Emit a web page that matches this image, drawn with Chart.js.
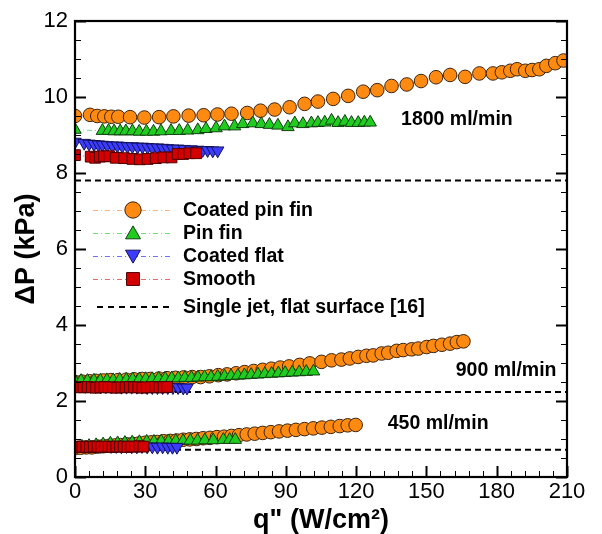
<!DOCTYPE html>
<html>
<head>
<meta charset="utf-8">
<script src="https://cdn.jsdelivr.net/npm/chart.js@4.4.1/dist/chart.umd.min.js"></script>
<style>
html,body{margin:0;padding:0;background:#fff;}
#wrap{width:602px;height:534px;}
</style>
</head>
<body>
<div id="wrap"><canvas id="c" width="602" height="534"></canvas></div>
<script>
// ---------- DATA ----------
const xTicks = [0, 30, 60, 90, 120, 150, 180, 210];
const yTicks = [0, 2, 4, 6, 8, 10, 12];

// 1800 ml/min
const q_cpf1800 = [0, 6.4, 9.5, 12.5, 15.5, 18.5, 23.5, 29.6, 35.9, 42, 48.5, 54.9, 60.8, 66.8, 73.5, 79.2, 85.2, 91.6, 98, 103.7, 110.2, 116.6, 123, 129, 135.1, 141.6, 147.7, 154.1, 160.1, 166.5, 172.6, 178.4, 182.2, 185.8, 188.7, 192.2, 195.1, 198.2, 201.2, 205, 208.5];
const p_cpf1800 = [9.5, 9.53, 9.5, 9.49, 9.48, 9.48, 9.47, 9.46, 9.47, 9.49, 9.51, 9.52, 9.54, 9.56, 9.58, 9.64, 9.67, 9.73, 9.82, 9.88, 9.95, 10.03, 10.14, 10.18, 10.29, 10.33, 10.42, 10.52, 10.58, 10.53, 10.62, 10.62, 10.65, 10.69, 10.73, 10.69, 10.71, 10.73, 10.82, 10.89, 10.96];
const q_pf1800 = [0, 11.7, 14.3, 16.7, 19.3, 21.7, 24.5, 27.4, 30.5, 33.5, 36.7, 41, 44.5, 48.1, 52.4, 55.9, 60.2, 63.8, 68.1, 71.6, 75.9, 79.5, 83, 86.6, 90.9, 93.8, 97.3, 100.9, 103.7, 106.6, 109.5, 112.3, 115.2, 118, 120.9, 123.5, 126];
const p_pf1800 = [9.14, 9.11, 9.11, 9.1, 9.1, 9.1, 9.1, 9.09, 9.09, 9.09, 9.1, 9.11, 9.11, 9.12, 9.13, 9.16, 9.18, 9.23, 9.23, 9.29, 9.31, 9.29, 9.27, 9.25, 9.21, 9.31, 9.29, 9.31, 9.32, 9.33, 9.38, 9.32, 9.35, 9.32, 9.32, 9.33, 9.33];
const q_cf1800 = [0, 3.9, 6, 8.1, 10, 11.7, 13.8, 16, 18.1, 20.2, 22.4, 24.5, 26.7, 28.8, 31, 33.1, 35.2, 37.4, 39.5, 41.7, 43.8, 46.7, 49.5, 52.4, 54.5, 56.6, 58.8, 60.9];
const p_cf1800 = [8.82, 8.79, 8.77, 8.76, 8.75, 8.74, 8.73, 8.72, 8.72, 8.71, 8.7, 8.7, 8.69, 8.69, 8.68, 8.67, 8.67, 8.66, 8.65, 8.64, 8.64, 8.63, 8.62, 8.61, 8.6, 8.6, 8.59, 8.59];
const q_sm1800 = [0, 6.7, 8.6, 10.6, 12.4, 14.6, 17.4, 21, 24.5, 27.7, 31, 34.5, 37.7, 41.2, 43.8, 46.2, 48.8, 51.7];
const p_sm1800 = [8.47, 8.43, 8.4, 8.43, 8.44, 8.44, 8.4, 8.39, 8.37, 8.36, 8.37, 8.39, 8.41, 8.41, 8.5, 8.5, 8.52, 8.52];

// 900 ml/min
const q_cpf900 = [0, 3.1, 6.2, 9.0, 12.1, 15.3, 18.4, 21.8, 25.2, 28.7, 32.1, 35.8, 39.3, 42.9, 46.4, 50.0, 53.6, 57.4, 61.2, 64.9, 68.8, 72.4, 76.3, 80.1, 83.8, 87.6, 91.4, 95.9, 100.2, 105.2, 109.5, 113.7, 117.3, 120.9, 124.4, 127.3, 130.9, 133.7, 137.3, 140.1, 143.7, 146.5, 150.1, 153, 156.6, 160.1, 163, 165.8];
const p_cpf900 = [2.5, 2.51, 2.52, 2.53, 2.54, 2.55, 2.55, 2.56, 2.57, 2.58, 2.58, 2.59, 2.6, 2.61, 2.62, 2.63, 2.63, 2.65, 2.68, 2.7, 2.73, 2.76, 2.79, 2.82, 2.85, 2.88, 2.91, 2.95, 2.99, 3.03, 3.07, 3.09, 3.12, 3.16, 3.19, 3.2, 3.25, 3.27, 3.32, 3.34, 3.36, 3.38, 3.42, 3.45, 3.48, 3.51, 3.55, 3.57];
const q_pf900 = [0, 2.6, 5.3, 8.1, 10.8, 13.6, 16.3, 19.1, 21.9, 24.6, 27.4, 30.2, 32.9, 35.7, 38.5, 41.3, 44.1, 46.9, 49.7, 52.5, 55.3, 58.1, 60.9, 63.8, 66.6, 69.5, 72.3, 75.2, 78.1, 81, 83.9, 86.8, 89.7, 92.7, 95.7, 98.7, 101.8];
const p_pf900 = [2.52, 2.53, 2.53, 2.54, 2.54, 2.55, 2.55, 2.56, 2.56, 2.57, 2.57, 2.58, 2.58, 2.59, 2.59, 2.6, 2.6, 2.61, 2.61, 2.62, 2.63, 2.63, 2.64, 2.65, 2.66, 2.67, 2.68, 2.69, 2.7, 2.71, 2.72, 2.73, 2.74, 2.75, 2.76, 2.77, 2.78];
const q_cf900 = [0, 2.2, 4.4, 6.6, 8.8, 11, 13.2, 15.4, 17.6, 19.8, 22, 24.2, 26.4, 28.6, 30.8, 33, 35.2, 37.4, 39.6, 41.8, 44, 46.2, 47.8];
const p_cf900 = [2.4, 2.4, 2.39, 2.39, 2.39, 2.38, 2.38, 2.38, 2.38, 2.37, 2.37, 2.37, 2.37, 2.37, 2.36, 2.36, 2.36, 2.36, 2.36, 2.36, 2.36, 2.35, 2.35];
const q_sm900 = [0, 1.8, 3.6, 5.4, 7.2, 9, 10.8, 12.6, 14.4, 16.2, 18, 19.8, 21.6, 23.4, 25.2, 27, 28.8, 30.6, 32.4, 34.2, 36, 37.8, 39.3];
const p_sm900 = [2.37, 2.36, 2.36, 2.37, 2.36, 2.35, 2.36, 2.37, 2.36, 2.36, 2.35, 2.36, 2.36, 2.37, 2.36, 2.36, 2.35, 2.36, 2.36, 2.37, 2.36, 2.36, 2.37];

// 450 ml/min
const q_cpf450 = [0, 2.4, 4.8, 7.2, 9.6, 12, 14.5, 17, 19.5, 22, 24.6, 27.2, 29.8, 32.5, 35.2, 37.9, 40.6, 43.4, 46.2, 49, 51.8, 54.7, 57.6, 60.6, 63.6, 66.8, 70, 73.3, 76.7, 80.1, 83.6, 87.1, 90.7, 94.3, 98, 101.7, 105.4, 109.2, 113, 116.4, 119.8];
const p_cpf450 = [0.76, 0.77, 0.78, 0.78, 0.8, 0.81, 0.82, 0.83, 0.84, 0.86, 0.87, 0.88, 0.9, 0.91, 0.92, 0.94, 0.95, 0.96, 0.98, 0.99, 1.0, 1.02, 1.03, 1.05, 1.06, 1.08, 1.1, 1.12, 1.14, 1.16, 1.18, 1.2, 1.22, 1.24, 1.26, 1.28, 1.3, 1.32, 1.34, 1.36, 1.37];
const q_pf450 = [0, 3, 6, 9, 12, 15.1, 18.2, 21.3, 24.4, 27.5, 30.6, 33.7, 36.8, 39.9, 43, 46.1, 49.2, 52.3, 55.4, 59, 63.3, 66, 68.4];
const p_pf450 = [0.78, 0.8, 0.82, 0.84, 0.86, 0.88, 0.89, 0.9, 0.91, 0.92, 0.93, 0.93, 0.94, 0.94, 0.95, 0.95, 0.96, 0.96, 0.97, 0.97, 0.98, 0.98, 0.98];
const q_cf450 = [0, 2.2, 4.4, 6.6, 8.8, 11, 13.2, 15.4, 17.6, 19.8, 22, 24.2, 26.4, 28.6, 30.8, 33, 35.2, 37.4, 39.6, 41.6, 43.5];
const p_cf450 = [0.82, 0.82, 0.81, 0.82, 0.81, 0.81, 0.82, 0.81, 0.81, 0.8, 0.81, 0.8, 0.8, 0.81, 0.8, 0.8, 0.79, 0.8, 0.79, 0.79, 0.79];
const q_sm450 = [0, 1.6, 3.2, 4.8, 6.4, 8, 9.6, 11.2, 12.8, 14.4, 16, 17.6, 19.2, 20.8, 22.4, 24, 25.6, 27.4, 29.2];
const p_sm450 = [0.8, 0.79, 0.8, 0.79, 0.79, 0.8, 0.8, 0.79, 0.8, 0.8, 0.79, 0.8, 0.8, 0.8, 0.79, 0.8, 0.8, 0.81, 0.8];

// Single jet, flat surface [16]
const jetLevels = [7.8, 2.24, 0.72];

const flowLabels = [
  {text: '1800 ml/min', q: 163, p: 9.4},
  {text: '900 ml/min',  q: 184, p: 2.8},
  {text: '450 ml/min',  q: 155, p: 1.41}
];

const seriesNames = ['Coated pin fin', 'Pin fin', 'Coated flat', 'Smooth'];
const jetName = 'Single jet, flat surface [16]';

// ---------- STYLES ----------
const FONT = "'Liberation Sans', Arial, Helvetica, sans-serif";
const styles = {
  'Coated pin fin': {fill: '#ff8a12', edge: '#3b2410', line: '#ffb27a', shape: 'circle', r: 6.8, order: 4},
  'Pin fin':        {fill: '#1fcc1f', edge: '#124012', line: '#6ee06e', shape: 'triangle', r: 7.2, order: 3},
  'Coated flat':    {fill: '#3c3cff', edge: '#12125a', line: '#7070ff', shape: 'triangle', rot: 180, r: 7.2, order: 2},
  'Smooth':         {fill: '#d40000', edge: '#500000', line: '#e66a6a', shape: 'rect', r: 7.6, order: 1}
};

function pts(qs, ps) { return qs.map((q, i) => ({x: q, y: ps[i]})); }

const groups = {
  'Coated pin fin': [[q_cpf1800, p_cpf1800], [q_cpf900, p_cpf900], [q_cpf450, p_cpf450]],
  'Pin fin':        [[q_pf1800, p_pf1800], [q_pf900, p_pf900], [q_pf450, p_pf450]],
  'Coated flat':    [[q_cf1800, p_cf1800], [q_cf900, p_cf900], [q_cf450, p_cf450]],
  'Smooth':         [[q_sm1800, p_sm1800], [q_sm900, p_sm900], [q_sm450, p_sm450]]
};

const datasets = [];
seriesNames.forEach(name => {
  const s = styles[name];
  groups[name].forEach(([qs, ps]) => {
    datasets.push({
      label: name,
      data: pts(qs, ps),
      showLine: true,
      borderColor: s.line,
      borderWidth: 1,
      borderDash: [5, 3, 1, 3],
      pointStyle: s.shape,
      pointRotation: s.rot || 0,
      pointRadius: s.r,
      pointBackgroundColor: s.fill,
      pointBorderColor: s.edge,
      pointBorderWidth: 1,
      order: s.order
    });
  });
});
jetLevels.forEach(v => {
  datasets.push({
    label: jetName,
    data: [{x: 0, y: v}, {x: 210, y: v}],
    showLine: true,
    borderColor: '#000',
    borderWidth: 2,
    borderDash: [6, 4],
    pointRadius: 0,
    order: 10
  });
});

// ---------- DECORATION PLUGIN ----------
function marker(ctx, shape, x, y, r, rot, fill, edge) {
  ctx.save();
  ctx.fillStyle = fill; ctx.strokeStyle = edge; ctx.lineWidth = 1;
  ctx.beginPath();
  if (shape === 'circle') {
    ctx.arc(x, y, r, 0, Math.PI * 2);
  } else if (shape === 'rect') {
    const h = r * Math.SQRT1_2;
    ctx.rect(x - h, y - h, 2 * h, 2 * h);
  } else {
    let a = (rot || 0) * Math.PI / 180;
    for (let k = 0; k < 3; k++) {
      const px = x + Math.sin(a) * r, py = y - Math.cos(a) * r;
      if (k === 0) ctx.moveTo(px, py); else ctx.lineTo(px, py);
      a += 2 * Math.PI / 3;
    }
    ctx.closePath();
  }
  ctx.fill(); ctx.stroke();
  ctx.restore();
}

const deco = {
  id: 'deco',
  afterDraw(chart) {
    const {ctx, chartArea: a, scales: {x, y}} = chart;
    ctx.save();
    // ticks (inside), left / right / bottom
    ctx.strokeStyle = '#000';
    for (let v = 0; v <= 210.001; v += 6) {
      const px = Math.round(x.getPixelForValue(v)) + 0.5;
      const major = xTicks.includes(Math.round(v));
      ctx.lineWidth = major ? 2 : 1;
      ctx.beginPath(); ctx.moveTo(px, a.bottom); ctx.lineTo(px, a.bottom - (major ? 11 : 6)); ctx.stroke();
    }
    for (let v = 0; v <= 12.001; v += 0.5) {
      const py = Math.round(y.getPixelForValue(v)) + 0.5;
      const major = yTicks.includes(v);
      ctx.lineWidth = major ? 2 : 1;
      const len = major ? 11 : 6;
      ctx.beginPath(); ctx.moveTo(a.left, py); ctx.lineTo(a.left + len, py); ctx.stroke();
      ctx.beginPath(); ctx.moveTo(a.right, py); ctx.lineTo(a.right - len, py); ctx.stroke();
    }
    // frame
    ctx.lineWidth = 2.2;
    ctx.strokeRect(a.left, a.top, a.right - a.left, a.bottom - a.top);

    // flow-rate labels
    ctx.fillStyle = '#000';
    ctx.font = 'bold 19.5px ' + FONT;
    ctx.textBaseline = 'middle';
    ctx.textAlign = 'center';
    flowLabels.forEach(l => ctx.fillText(l.text, x.getPixelForValue(l.q), y.getPixelForValue(l.p)));

    // legend
    const lx0 = a.left + 18, lx1 = a.left + 97, mx = a.left + 58, tx = a.left + 108;
    const rows = [210, 233, 256, 279];
    ctx.font = 'bold 19.5px ' + FONT;
    ctx.textAlign = 'left';
    seriesNames.forEach((name, i) => {
      const s = styles[name];
      const ry = rows[i];
      ctx.save();
      ctx.strokeStyle = s.line; ctx.lineWidth = 1; ctx.setLineDash([5, 3, 1, 3]);
      ctx.beginPath(); ctx.moveTo(lx0, ry + 0.5); ctx.lineTo(lx1, ry + 0.5); ctx.stroke();
      ctx.restore();
      let my = ry;
      if (s.shape === 'triangle') my = ry + (s.rot ? -1.5 : 1.5);
      marker(ctx, s.shape, mx, my, s.r * 1.2, s.rot, s.fill, s.edge);
      ctx.fillStyle = '#000';
      ctx.fillText(name, tx, ry + 1);
    });
    const jy = 307;
    ctx.save();
    ctx.strokeStyle = '#000'; ctx.lineWidth = 2; ctx.setLineDash([6, 5]);
    ctx.beginPath(); ctx.moveTo(lx0 + 4, jy); ctx.lineTo(lx1, jy); ctx.stroke();
    ctx.restore();
    ctx.fillText(jetName, tx, jy + 1);

    // axis titles
    ctx.font = 'bold 27px ' + FONT;
    ctx.textAlign = 'center';
    ctx.fillText('q" (W/cm\u00B2)', (a.left + a.right) / 2, 521);
    ctx.save();
    ctx.translate(27, (a.top + a.bottom) / 2);
    ctx.rotate(-Math.PI / 2);
    ctx.fillText('\u0394P (kPa)', 0, 0);
    ctx.restore();
    ctx.restore();
  }
};

new Chart(document.getElementById('c'), {
  type: 'scatter',
  data: {datasets},
  options: {
    responsive: false,
    animation: false,
    events: [],
    layout: {padding: {top: 21, right: 35, left: 0, bottom: 0}},
    plugins: {legend: {display: false}, tooltip: {enabled: false}},
    scales: {
      x: {
        type: 'linear', min: 0, max: 210,
        afterBuildTicks: s => { s.ticks = xTicks.map(v => ({value: v})); },
        afterFit: s => { s.height = 57; },
        grid: {display: false, drawTicks: false},
        border: {display: false},
        ticks: {color: '#000', padding: 2, maxRotation: 0, autoSkip: false, font: {family: FONT, size: 22}}
      },
      y: {
        type: 'linear', min: 0, max: 12,
        afterBuildTicks: s => { s.ticks = yTicks.map(v => ({value: v})); },
        afterFit: s => { s.width = 75; },
        grid: {display: false, drawTicks: false},
        border: {display: false},
        ticks: {color: '#000', padding: 7, autoSkip: false, font: {family: FONT, size: 22}}
      }
    }
  },
  plugins: [deco]
});
</script>
</body>
</html>
